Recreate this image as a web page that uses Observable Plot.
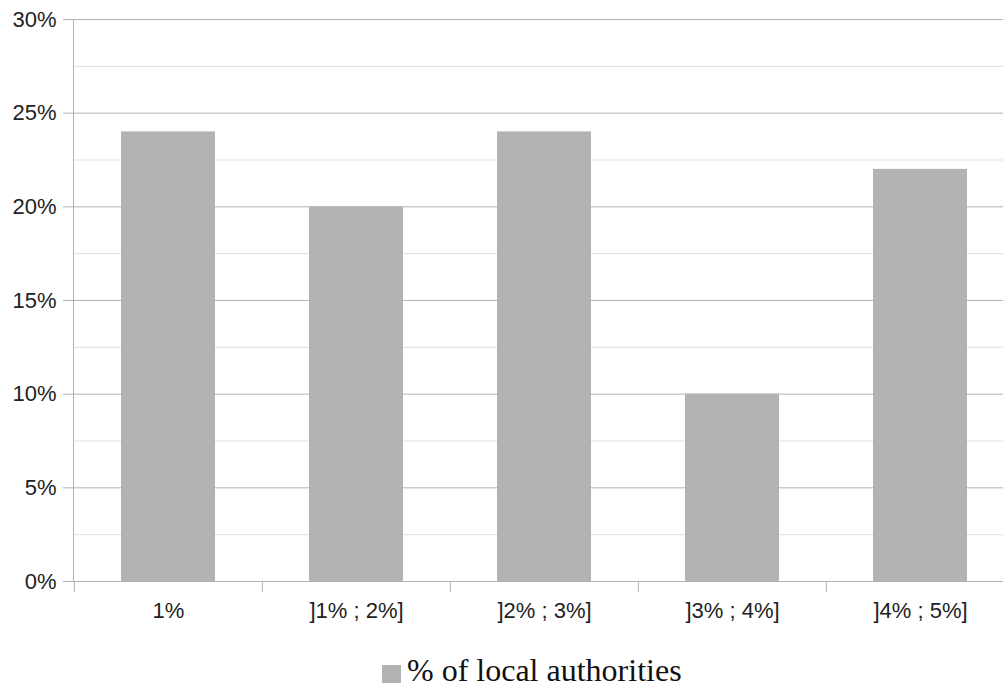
<!DOCTYPE html>
<html>
<head>
<meta charset="utf-8">
<script src="https://cdn.jsdelivr.net/npm/d3@7"></script>
<script src="https://cdn.jsdelivr.net/npm/@observablehq/plot@0.6"></script>
<style>
  html, body { margin: 0; padding: 0; background: white; }
  #legend { position: relative; height: 41px; font-family: "Liberation Serif", "Times New Roman", serif; font-size: 32px; color: #111; }
  #legend .sw { position: absolute; left: 382px; top: 20px; width: 19px; height: 18px; background: #b3b3b3; }
  #legend .tx { position: absolute; left: 407px; top: 9px; white-space: nowrap; line-height: 1; }
</style>
</head>
<body>
<div id="chart"></div>
<div id="legend"><span class="sw"></span><span class="tx"></span></div>
<script>
const categories = ["1%", "]1% ; 2%]", "]2% ; 3%]", "]3% ; 4%]", "]4% ; 5%]"];
const values = [24, 20, 24, 10, 22];
const majorTicks = [0, 5, 10, 15, 20, 25, 30];
const minorTicks = [2.5, 7.5, 12.5, 17.5, 22.5, 27.5];
const seriesName = "% of local authorities";

const data = categories.map((c, i) => ({category: c, value: values[i]}));

const xRange = [73, 1014];
const step = (xRange[1] - xRange[0]) / categories.length;
const axisColor = "#b3b3b3";

const chart = Plot.plot({
  width: 1003,
  height: 645,
  marginLeft: 73,
  marginRight: 0,
  marginTop: 19,
  marginBottom: 64,
  style: {fontFamily: "'Liberation Sans', Arial, sans-serif", fontSize: "22px", color: "#222", background: "white", overflow: "visible"},
  x: {domain: categories, range: xRange, paddingInner: 0.5, paddingOuter: 0.25},
  y: {domain: [0, 30]},
  marks: [
    Plot.ruleY(minorTicks, {stroke: "#dfdfdf", strokeWidth: 1}),
    Plot.ruleY(majorTicks, {stroke: axisColor, strokeWidth: 1}),
    Plot.barY(data, {x: "category", y: "value", fill: "#b3b3b3"}),
    Plot.axisY({ticks: majorTicks, tickSize: 10, tickPadding: 7, tickFormat: d => d + "%", stroke: axisColor, strokeOpacity: 1, label: null, fontSize: 22, fill: "#222"}),
    Plot.axisX({tickSize: 0, tickPadding: 21, label: null, fontSize: 22, fill: "#222"}),
    Plot.ruleX(categories, {x: d => d, dx: -step / 2, y1: 0, y2: -0.6, stroke: axisColor}),
    Plot.frame({anchor: "left", stroke: axisColor})
  ]
});
document.getElementById("chart").appendChild(chart);
document.querySelector("#legend .tx").textContent = seriesName;
</script>
</body>
</html>
